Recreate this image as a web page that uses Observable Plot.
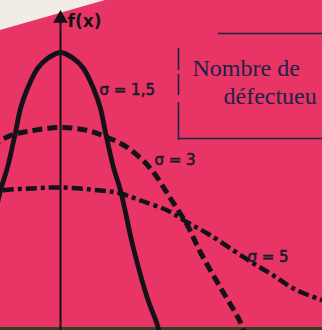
<!DOCTYPE html>
<html>
<head>
<meta charset="utf-8">
<script src="https://cdn.jsdelivr.net/npm/d3@7"></script>
<script src="https://cdn.jsdelivr.net/npm/@observablehq/plot@0.6"></script>
<style>
  html, body { margin: 0; padding: 0; background: #e83565; overflow: hidden; }
  #chart svg { display: block; }
</style>
</head>
<body>
<div id="chart"></div>
<script>
// Curves: x (horizontal, axis at 0), y = f(x) height (arbitrary units)
const sigma15X = [-100, -97, -87, -73, -60, -53, -45, -40, -33, -23, -13, 0, 13, 23, 33, 40, 45, 53, 60, 73, 87, 97, 100];
const sigma15Y = [-10, 5, 32, 82, 140, 163, 198, 222, 242, 262, 272, 278, 272, 262, 242, 222, 198, 163, 140, 82, 32, 5, -10];

const sigma3X = [-90, -70, -50, -27, 0, 27, 47, 67, 90, 110, 127, 140, 157, 180, 185];
const sigma3Y = [162, 183, 195, 200, 203, 200, 193, 183, 162, 132, 105, 78, 48, 8, -5];

const sigma5X = [-80, -60, -30, 0, 40, 60, 80, 107, 127, 147, 173, 193, 213, 233, 257, 270];
const sigma5Y = [135, 140, 142, 143, 140, 137, 130, 120, 108, 97, 80, 67, 55, 42, 32, 28];

const sigmaLabels = ["σ = 1,5", "σ = 3", "σ = 5"];
const labelX = [39, 94, 187];
const labelY = [240, 170, 73];

const boxTitle = ["Nombre de", "défectueu"];

const toPts = (xs, ys) => xs.map((x, i) => ({x, y: ys[i]}));
const s15 = toPts(sigma15X, sigma15Y);
const s3 = toPts(sigma3X, sigma3Y);
const s5 = toPts(sigma5X, sigma5Y);
const labels = sigmaLabels.map((t, i) => ({t, x: labelX[i], y: labelY[i]}));

// decorative frame pieces of the cover (vertical bar segments, horizontal lines)
const boxV = [{x: 118, y1: 260, y2: 282}, {x: 118, y1: 235, y2: 256}, {x: 118, y1: 190, y2: 228}];
const boxH = [{y: 297, x1: 158, x2: 262}, {y: 192, x1: 118, x2: 262}];
const corner = [{x: -60, y1: 300, y2: 330}, {x: 45, y1: 330, y2: 330}];

const ink = "#141218";
const navy = "#1e2148";

const plot = Plot.plot({
  width: 322,
  height: 330,
  margin: 0,
  style: {background: "#e83565", overflow: "hidden"},
  x: {domain: [-60, 262], range: [0, 322], axis: null},
  y: {domain: [0, 330], range: [330, 0], axis: null},
  marks: [
    Plot.areaY(corner, {x: "x", y1: "y1", y2: "y2", fill: "#f1ece4", curve: "linear"}),
    Plot.ruleY([1.5], {stroke: "#3b3a22", strokeWidth: 4}),
    // y axis with arrow
    Plot.ruleX([0], {y1: 0, y2: 312, stroke: ink, strokeWidth: 2}),
    Plot.dot([{x: 0, y: 312}], {x: "x", y: "y", symbol: "triangle", r: 5.5, fill: ink, stroke: null}),
    Plot.text(["f(x)"], {x: 7, y: 309, text: d => d, textAnchor: "start", fontSize: 17, fontWeight: "bold", fill: ink, fontFamily: "DejaVu Sans, sans-serif", letterSpacing: 0.5}),
    // curves
    Plot.line(s15, {x: "x", y: "y", curve: "catmull-rom", stroke: ink, strokeWidth: 4.8}),
    Plot.line(s3, {x: "x", y: "y", curve: "catmull-rom", stroke: ink, strokeWidth: 5, strokeDasharray: "10 5", strokeLinecap: "butt"}),
    Plot.line(s5, {x: "x", y: "y", curve: "catmull-rom", stroke: ink, strokeWidth: 4.5, strokeDasharray: "11 4 4 4", strokeLinecap: "butt"}),
    Plot.text(labels, {x: "x", y: "y", text: "t", textAnchor: "start", fontSize: 15, fill: "#1b1b2a", stroke: "#1b1b2a", strokeWidth: 0.6, fontFamily: "DejaVu Sans, sans-serif", letterSpacing: 0.3}),
    // frame
    Plot.ruleX(boxV, {x: "x", y1: "y1", y2: "y2", stroke: navy, strokeWidth: 1.6}),
    Plot.ruleY(boxH, {y: "y", x1: "x1", x2: "x2", stroke: navy, strokeWidth: 1.6}),
    Plot.text([boxTitle[0]], {x: 132, y: 255, text: d => d, textAnchor: "start", lineAnchor: "bottom", fontSize: 24, fill: navy, fontFamily: "Liberation Serif, Times New Roman, serif"}),
    Plot.text([boxTitle[1]], {x: 163, y: 227, text: d => d, textAnchor: "start", lineAnchor: "bottom", fontSize: 24, fill: navy, fontFamily: "Liberation Serif, Times New Roman, serif"})
  ]
});
document.getElementById("chart").append(plot);
</script>
</body>
</html>
